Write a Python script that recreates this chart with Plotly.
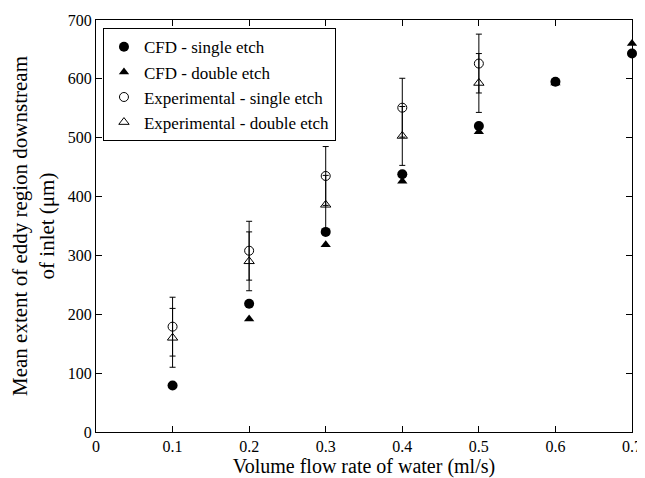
import plotly.graph_objects as go

flow = [0.1, 0.2, 0.3, 0.4, 0.5, 0.6, 0.7]
cfd_single = [79, 218, 340, 438, 520, 595, 643]
cfd_double_x = [0.2, 0.3, 0.4, 0.5, 0.6, 0.7]
cfd_double = [192, 318, 426, 510, 593, 660]
exp_x = [0.1, 0.2, 0.3, 0.4, 0.5]
exp_single = [179, 308, 435, 551, 626]
exp_double = [160, 290, 386, 503, 593]
exp_err = [50, 50, 50, 50, 50]

font = "Liberation Serif"

fig = go.Figure()
fig.add_trace(go.Scatter(x=flow, y=cfd_single, mode="markers", name="CFD - single etch",
                         cliponaxis=False,
                         marker=dict(symbol="circle", size=10, color="black")))
fig.add_trace(go.Scatter(x=cfd_double_x, y=cfd_double, mode="markers", name="CFD - double etch",
                         cliponaxis=False,
                         marker=dict(symbol="triangle-up", size=9, color="black")))
fig.add_trace(go.Scatter(x=exp_x, y=exp_single, mode="markers", name="Experimental - single etch",
                         marker=dict(symbol="circle-open", size=9, color="black", line=dict(width=1)),
                         error_y=dict(type="data", array=exp_err, color="black", thickness=1, width=3)))
fig.add_trace(go.Scatter(x=exp_x, y=exp_double, mode="markers", name="Experimental - double etch",
                         marker=dict(symbol="triangle-up-open", size=9, color="black", line=dict(width=1)),
                         error_y=dict(type="data", array=exp_err, color="black", thickness=1, width=3)))

axis_common = dict(showline=True, linecolor="black", linewidth=1, mirror="ticks",
                   ticks="inside", ticklen=6, tickcolor="black", showgrid=False, zeroline=False,
                   automargin=False, ticklabeloverflow="allow",
                   tickfont=dict(family=font, size=16, color="black"))

fig.update_layout(
    width=637, height=470,
    margin=dict(l=88, r=13, t=12, b=46),
    paper_bgcolor="white", plot_bgcolor="white",
    font=dict(family=font, color="black"),
    showlegend=True,
    legend=dict(x=0.013, y=0.98, xanchor="left", yanchor="top",
                bordercolor="black", borderwidth=1, bgcolor="white",
                font=dict(family=font, size=17, color="black"),
                tracegroupgap=0, itemwidth=30),
    xaxis=dict(range=[0, 0.7], tickvals=[0, 0.1, 0.2, 0.3, 0.4, 0.5, 0.6, 0.7],
               ticktext=["0", "0.1", "0.2", "0.3", "0.4", "0.5", "0.6", "0.7"],
               title=dict(text="Volume flow rate of water (ml/s)", standoff=5,
                          font=dict(family=font, size=20, color="black")),
               **axis_common),
    yaxis=dict(range=[0, 700], tickvals=[0, 100, 200, 300, 400, 500, 600, 700],
               title=dict(text="Mean extent of eddy region downstream<br>of inlet (μm)", standoff=8,
                          font=dict(family=font, size=21, color="black")),
               **axis_common),
)

fig.write_html("out.html")
